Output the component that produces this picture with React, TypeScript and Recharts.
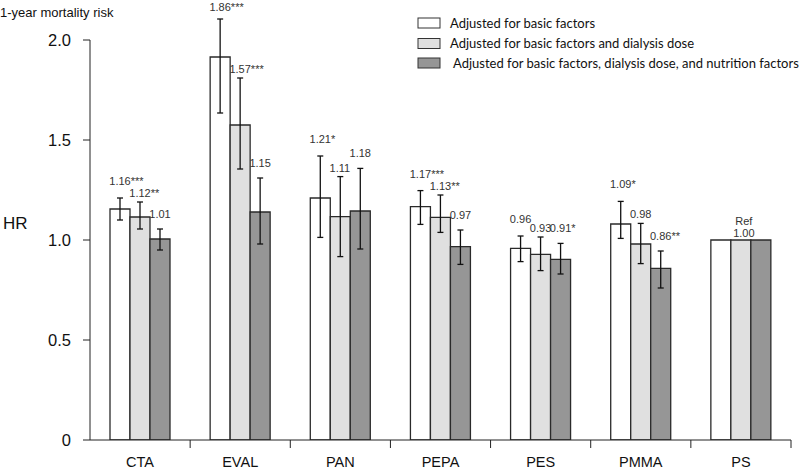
import React from 'react';
import { BarChart, Bar, XAxis, YAxis, ErrorBar, LabelList, Customized } from 'recharts';

const categories = ['CTA', 'EVAL', 'PAN', 'PEPA', 'PES', 'PMMA', 'PS'];

const hrBasic = [1.155, 1.915, 1.21, 1.167, 0.958, 1.08, 1.0];
const hrDose = [1.115, 1.575, 1.117, 1.113, 0.928, 0.98, 1.0];
const hrNutr = [1.005, 1.14, 1.145, 0.967, 0.903, 0.858, 1.0];

const ciLowBasic = [1.1, 1.635, 1.013, 1.078, 0.892, 1.008, null];
const ciHighBasic = [1.21, 2.105, 1.42, 1.247, 1.02, 1.193, null];
const ciLowDose = [1.055, 1.355, 0.917, 1.038, 0.847, 0.882, null];
const ciHighDose = [1.19, 1.81, 1.317, 1.225, 1.015, 1.083, null];
const ciLowNutr = [0.95, 0.98, 0.955, 0.878, 0.83, 0.76, null];
const ciHighNutr = [1.055, 1.31, 1.358, 1.05, 0.983, 0.945, null];

const labelsBasic = ['1.16***', '1.86***', '1.21*', '1.17***', '0.96', '1.09*', ''];
const labelsDose = ['1.12**', '1.57***', '1.11', '1.13**', '0.93', '0.98', 'Ref|1.00'];
const labelsNutr = ['1.01', '1.15', '1.18', '0.97', '0.91*', '0.86**', ''];

const yTicks = [0, 0.5, 1, 1.5, 2];

const seriesNames = [
  'Adjusted for basic factors',
  'Adjusted for basic factors and dialysis dose',
  'Adjusted for basic factors, dialysis dose, and nutrition factors',
];
const seriesColors = ['#ffffff', '#e0e0e0', '#969696'];

const titleText = '1-year mortality risk';
const yLabelText = 'HR';

const err = (v: number, lo: number | null, hi: number | null) =>
  lo == null || hi == null ? null : [v - lo, hi - v];

const data = categories.map((name, i) => ({
  name,
  basic: hrBasic[i],
  dose: hrDose[i],
  nutr: hrNutr[i],
  errBasic: err(hrBasic[i], ciLowBasic[i], ciHighBasic[i]),
  errDose: err(hrDose[i], ciLowDose[i], ciHighDose[i]),
  errNutr: err(hrNutr[i], ciLowNutr[i], ciHighNutr[i]),
  lblBasic: labelsBasic[i],
  lblDose: labelsDose[i],
  lblNutr: labelsNutr[i],
}));

const FONT = '"Liberation Sans", Arial, sans-serif';

const makeLabel = (values: number[], highs: (number | null)[], labels: string[], lift: number) => (props: any) => {
  const vb = props.viewBox || props;
  const index = props.index;
  const text = labels[index];
  if (!text) return null;
  const x = Number(vb.x);
  const y = Number(vb.y);
  const w = Number(vb.width);
  const h = Number(vb.height);
  const cx = x + w / 2;
  const base = y + h;
  const perUnit = h / values[index];
  const hi = highs[index];
  if (text.includes('|')) {
    const [a, b] = text.split('|');
    return (
      <g>
        <text x={cx + 3} y={y - 15} textAnchor="middle" fontSize={11} fill="#333" fontFamily={FONT}>{a}</text>
        <text x={cx + 3} y={y - 3} textAnchor="middle" fontSize={11} fill="#333" fontFamily={FONT}>{b}</text>
      </g>
    );
  }
  const topY = hi != null ? base - hi * perUnit : y;
  const m = /^([\d.]+)(\**)$/.exec(text);
  const num = m ? m[1] : text;
  const stars = m ? m[2] : '';
  const baseline = Math.max(topY - lift + 4, 11);
  return (
    <text x={cx - 10.7} y={baseline} fontSize={11} fill="#333" fontFamily={FONT}>
      {num}
      {stars ? <tspan>{stars}</tspan> : null}
    </text>
  );
};

const CategoryTick = (props: any) => {
  const { x, y, payload } = props;
  const half =
    payload && typeof payload.offset === 'number' && payload.offset > 0
      ? payload.offset
      : Number(props.width) / Number(props.visibleTicksCount || categories.length) / 2;
  return (
    <g>
      <line x1={x + half} y1={y} x2={x + half} y2={y + 8} stroke="#222" strokeWidth={1} />
      <text x={x} y={y + 27} textAnchor="middle" fontSize={14.5} fill="#111" fontFamily={FONT}>
        {payload.value}
      </text>
    </g>
  );
};

const Decorations = () => (
  <g fontFamily={FONT}>
    <text x={0} y={17} fontSize={13} fill="#111">{titleText}</text>
    <text x={3} y={229} fontSize={17} fill="#111">{yLabelText}</text>
    {seriesNames.map((s, i) => {
      const rowY = [23, 43.5, 63][i];
      return (
        <g key={s}>
          <rect x={418} y={rowY - 5} width={22} height={10} fill={seriesColors[i]} stroke="#333" strokeWidth={1} />
          <text x={i === 2 ? 453 : 450} y={rowY + 4.5} fontSize={13} fill="#111" fontFamily="Lato, sans-serif">{s}</text>
        </g>
      );
    })}
  </g>
);

export default function App() {
  return (
    <div style={{ position: 'absolute', left: 0, top: 0, width: 800, height: 471, fontFamily: FONT, background: '#fff' }}>
      <BarChart
        width={800}
        height={471}
        data={data}
        margin={{ top: 40, right: 9, bottom: 0, left: 0 }}
        barGap={0}
        barSize={20}
      >
        <XAxis
          dataKey="name"
          tickLine={false}
          tickSize={0}
          tickMargin={0}
          axisLine={{ stroke: '#222' }}
          height={31}
          tick={<CategoryTick />}
          interval={0}
        />
        <YAxis
          domain={[0, 2]}
          ticks={yTicks}
          allowDataOverflow
          width={90}
          tickSize={7}
          tickMargin={12}
          tickFormatter={(v: number) => (v === 0 ? '0' : v.toFixed(1))}
          tick={{ fontSize: 16.5, fill: '#111' }}
          axisLine={{ stroke: '#222' }}
          tickLine={{ stroke: '#222' }}
        />
        <Bar dataKey="basic" fill={seriesColors[0]} stroke="#2a2a2a" strokeWidth={1.3} isAnimationActive={false}>
          <ErrorBar dataKey="errBasic" width={3} stroke="#111" strokeWidth={1.3} direction="y" />
          <LabelList dataKey="lblBasic" content={makeLabel(hrBasic, ciHighBasic, labelsBasic, 17)} />
        </Bar>
        <Bar dataKey="dose" fill={seriesColors[1]} stroke="#2a2a2a" strokeWidth={1.3} isAnimationActive={false}>
          <ErrorBar dataKey="errDose" width={3} stroke="#111" strokeWidth={1.3} direction="y" />
          <LabelList dataKey="lblDose" content={makeLabel(hrDose, ciHighDose, labelsDose, 9)} />
        </Bar>
        <Bar dataKey="nutr" fill={seriesColors[2]} stroke="#2a2a2a" strokeWidth={1.3} isAnimationActive={false}>
          <ErrorBar dataKey="errNutr" width={3} stroke="#111" strokeWidth={1.3} direction="y" />
          <LabelList dataKey="lblNutr" content={makeLabel(hrNutr, ciHighNutr, labelsNutr, 15)} />
        </Bar>
        <Customized component={Decorations} />
      </BarChart>
    </div>
  );
}
